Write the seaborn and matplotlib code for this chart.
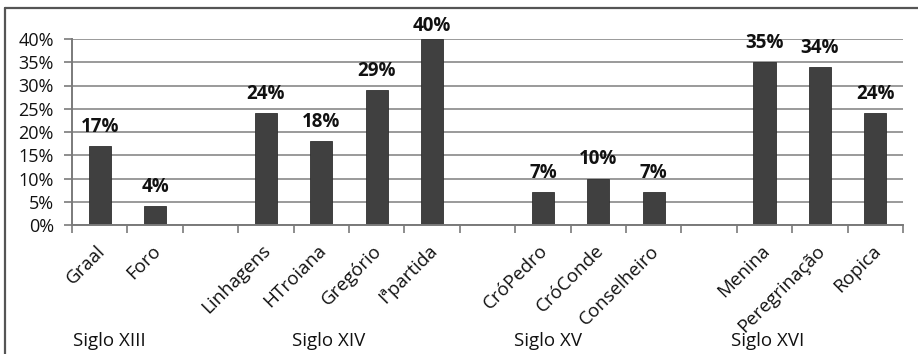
import numpy as np
import pandas as pd
import matplotlib
matplotlib.use("Agg")
import matplotlib.pyplot as plt
from matplotlib.lines import Line2D
from matplotlib.ticker import FixedLocator, PercentFormatter
from matplotlib.transforms import ScaledTranslation
import seaborn as sns

# Texts per century
groups = ["Siglo XIII", "Siglo XIV", "Siglo XV", "Siglo XVI"]
texts_xiii = ["Graal", "Foro"]
texts_xiv = ["Linhagens", "HTroiana", "Gregório", "Iªpartida"]
texts_xv = ["CróPedro", "CróConde", "Conselheiro"]
texts_xvi = ["Menina", "Peregrinação", "Ropica"]

# Share of each text (fraction)
share_xiii = [0.17, 0.04]
share_xiv = [0.24, 0.18, 0.29, 0.40]
share_xv = [0.07, 0.10, 0.07]
share_xvi = [0.35, 0.34, 0.24]

y_ticks = [0.00, 0.05, 0.10, 0.15, 0.20, 0.25, 0.30, 0.35, 0.40]

# Layout: x position (in category slots) of each century caption
century_caption_x = [0.18, 4.14, 8.1, 12.05]

sns.set_theme(style="white")
plt.rcParams["font.family"] = ["Open Sans", "DejaVu Sans"]

group_texts = [texts_xiii, texts_xiv, texts_xv, texts_xvi]
group_shares = [share_xiii, share_xiv, share_xv, share_xvi]

df = pd.DataFrame({
    "texto": sum(group_texts, []),
    "valor": sum(group_shares, []),
})

# Slot order with one empty slot between centuries
order = []
for i, t in enumerate(group_texts):
    order += t
    if i < len(group_texts) - 1:
        order.append(" " * (i + 1))

fig = plt.figure(figsize=(9.18, 3.54), dpi=100)
ax = fig.add_axes([72 / 918, 1 - 225 / 354, 831 / 918, 186 / 354])

bar_color = "#404040"
sns.barplot(data=df, x="texto", y="valor", order=order, color=bar_color,
            width=0.4, saturation=1, edgecolor="#303030", linewidth=0.6,
            err_kws={"linewidth": 0}, ax=ax)

ax.set_xlim(-0.5, len(order) - 0.5)
ax.set_ylim(0, 0.40)
ax.set_xlabel("")
ax.set_ylabel("")

text_color = "#111111"

# Y axis: percent ticks with horizontal grid
ax.yaxis.set_major_locator(FixedLocator(y_ticks))
ax.yaxis.set_major_formatter(PercentFormatter(1.0, decimals=0))
ax.grid(axis="y", color="#9a9a9a", linewidth=1.4)
ax.set_axisbelow(True)
ax.tick_params(axis="y", which="major", direction="out", length=6, width=1.2,
               color="#7a7a7a", labelsize=13, labelcolor=text_color,
               pad=7, left=True)

# X axis: labels centred on slots, tick marks on slot boundaries
ax.set_xticks(np.arange(len(order)))
ax.set_xticklabels([o if o.strip() else "" for o in order], rotation=45,
                   ha="right", rotation_mode="anchor", fontsize=13.5,
                   color=text_color)
ax.tick_params(axis="x", which="major", length=0, pad=12)
shift = ScaledTranslation(-4 / 100, 0, fig.dpi_scale_trans)
for lbl in ax.get_xticklabels():
    lbl.set_transform(lbl.get_transform() + shift)
ax.set_xticks(np.arange(len(order) + 1) - 0.5, minor=True)
ax.tick_params(axis="x", which="minor", direction="out", length=6, width=1.2,
               color="#7a7a7a", bottom=True)

for side in ["top", "right"]:
    ax.spines[side].set_visible(False)
for side in ["left", "bottom"]:
    ax.spines[side].set_color("#7a7a7a")
    ax.spines[side].set_linewidth(1.4)

# Value labels above each bar
for xi, name in enumerate(order):
    if not name.strip():
        continue
    v = float(df.loc[df["texto"] == name, "valor"].iloc[0])
    ax.annotate(f"{v * 100:.0f}%", (xi, min(v + 0.041, 0.428)),
                ha="center", va="center", fontsize=13.5, fontweight="bold",
                color=text_color, annotation_clip=False)

# Century captions under the tick labels
for g, cx in zip(groups, century_caption_x):
    ax.annotate(g, (cx, 0), xytext=(0, -116), textcoords="offset pixels",
                ha="center", va="center", fontsize=13.5, color=text_color,
                annotation_clip=False)

# Outer frame (top and left edges)
fig.add_artist(Line2D([4.5 / 918, 1], [1 - 8 / 354, 1 - 8 / 354],
                      transform=fig.transFigure, color="#555555", linewidth=1.6))
fig.add_artist(Line2D([4.5 / 918, 4.5 / 918], [0, 1 - 8 / 354],
                      transform=fig.transFigure, color="#555555", linewidth=1.6))

fig.savefig("out.png", dpi=100)
